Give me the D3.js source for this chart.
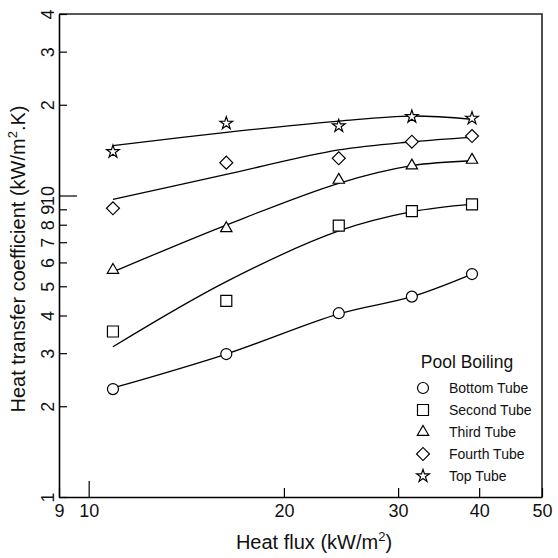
<!DOCTYPE html>
<html>
<head>
<meta charset="utf-8">
<script src="https://cdn.jsdelivr.net/npm/d3@7"></script>
<style>
  html, body { margin: 0; padding: 0; background: #fff; }
  svg { display: block; font-family: "Liberation Sans", Arial, sans-serif; }
</style>
</head>
<body>
<svg id="chart" width="558" height="558"></svg>
<script>
// Heat flux values where each tube was measured (kW/m2)
const heatFlux = [10.9, 16.3, 24.3, 31.5, 39.0];

// Measured heat transfer coefficients (kW/m2.K) for each tube row
const bottomTube = [2.28, 2.98, 4.07, 4.62, 5.49];
const secondTube = [3.54, 4.47, 7.94, 8.88, 9.35];
const thirdTube  = [5.66, 7.78, 11.26, 12.56, 13.12];
const fourthTube = [9.07, 12.85, 13.29, 15.08, 15.75];
const topTube    = [13.97, 17.36, 17.0, 18.26, 18.03];

// Correlation curves drawn through each tube's data, at the same heat fluxes
const bottomFit  = [2.30, 2.98, 4.05, 4.62, 5.49];
const secondFit  = [3.15, 5.18, 7.63, 8.84, 9.37];
const thirdFit   = [5.58, 7.98, 10.98, 12.56, 13.04];
const fourthFit  = [9.71, 11.75, 14.16, 15.08, 15.60];
const topFit     = [14.63, 16.20, 17.66, 18.35, 17.89];

// Legend entries and symbol names
const seriesNames = ["Bottom Tube", "Second Tube", "Third Tube", "Fourth Tube", "Top Tube"];
const seriesSymbols = ["circle", "square", "triangle", "diamond", "star"];

// Axis ticks
const xTicks = [9, 10, 20, 30, 40, 50];
const yTicks = [1, 2, 3, 4, 5, 6, 7, 8, 9, 10, 20, 30, 40];

const svg = d3.select("#chart");
const plotLeft = 59, plotRight = 542, plotTop = 14, plotBottom = 497;

const x = d3.scaleLog().domain([9, 50]).range([plotLeft, plotRight]);
const y = d3.scaleLog().domain([1, 40]).range([plotBottom, plotTop]);

const measured = [bottomTube, secondTube, thirdTube, fourthTube, topTube];
const fits = [bottomFit, secondFit, thirdFit, fourthFit, topFit];

// Frame on top and right
svg.append("path")
  .attr("d", `M${plotLeft},${plotTop}H${plotRight}V${plotBottom}`)
  .attr("fill", "none").attr("stroke", "#222").attr("stroke-width", 1.6);

// Bottom axis with inward ticks
const xAxis = svg.append("g")
  .attr("transform", `translate(0,${plotBottom})`)
  .call(d3.axisBottom(x).tickValues(xTicks).tickFormat(d3.format("d"))
    .tickSizeInner(-9).tickSizeOuter(0).tickPadding(7));
xAxis.select(".domain").attr("stroke", "#000").attr("stroke-width", 1.6);
xAxis.selectAll(".tick line").attr("stroke", "#000").attr("stroke-width", 1.2)
  .attr("y2", d => d === 10 ? -16 : -9);
xAxis.selectAll(".tick text").attr("font-size", 18).attr("fill", "#111")
  .attr("font-family", "Liberation Sans, Arial, sans-serif");

// Left axis with inward ticks and rotated labels
const yAxis = svg.append("g")
  .attr("transform", `translate(${plotLeft},0)`)
  .call(d3.axisLeft(y).tickValues(yTicks)
    .tickFormat(d => d > 10 ? String(d / 10) : String(d))
    .tickSizeInner(-8).tickSizeOuter(0));
yAxis.select(".domain").attr("stroke", "#000").attr("stroke-width", 1.6);
yAxis.selectAll(".tick line").attr("stroke", "#000").attr("stroke-width", 1.2)
  .attr("x2", d => d === 10 ? 18 : 8);
yAxis.selectAll(".tick text")
  .attr("font-size", 18).attr("fill", "#111")
  .attr("font-family", "Liberation Sans, Arial, sans-serif")
  .attr("text-anchor", "middle")
  .attr("x", 0).attr("y", 0).attr("dy", 0)
  .attr("transform", "translate(-5,0) rotate(-90)");

// Axis titles
const xTitle = svg.append("text")
  .attr("x", 314).attr("y", 549)
  .attr("text-anchor", "middle").attr("font-size", 20).attr("fill", "#111");
xTitle.append("tspan").text("Heat flux (kW/m");
xTitle.append("tspan").attr("font-size", 13).attr("dy", -8).text("2");
xTitle.append("tspan").attr("dy", 8).text(")");

const yTitle = svg.append("text")
  .attr("transform", "translate(25,259) rotate(-90)")
  .attr("text-anchor", "middle").attr("font-size", 20).attr("fill", "#111");
yTitle.append("tspan").text("Heat transfer coefficient (kW/m");
yTitle.append("tspan").attr("font-size", 13).attr("dy", -8).text("2");
yTitle.append("tspan").attr("dy", 8).text(".K)");

// Symbol path generator
function symbolPath(name) {
  switch (name) {
    case "circle":   return d3.symbol(d3.symbolCircle, 95)();
    case "square":   return d3.symbol(d3.symbolSquare, 121)();
    case "triangle": return d3.symbol(d3.symbolTriangle, 56)();
    case "diamond":  return d3.symbol(d3.symbolSquare, 84)();
    case "star":     return d3.symbol(d3.symbolStar, 50)();
  }
}
function symbolRotate(name) { return name === "diamond" ? " rotate(45)" : ""; }

// Correlation curves
const line = d3.line()
  .x((d, i) => x(heatFlux[i]))
  .y(d => y(d))
  .curve(d3.curveCatmullRom.alpha(0.5));

svg.append("g").selectAll("path").data(fits).join("path")
  .attr("d", d => line(d))
  .attr("fill", "none").attr("stroke", "#000").attr("stroke-width", 1.3);

// Data markers
measured.forEach((vals, s) => {
  svg.append("g").selectAll("path").data(vals).join("path")
    .attr("d", symbolPath(seriesSymbols[s]))
    .attr("transform", (d, i) => `translate(${x(heatFlux[i])},${y(d)})${symbolRotate(seriesSymbols[s])}`)
    .attr("fill", "#fff").attr("stroke", "#000").attr("stroke-width", 1.2);
});

// Legend
const legend = svg.append("g");
legend.append("text").attr("x", 467).attr("y", 368)
  .attr("text-anchor", "middle").attr("font-size", 17.5).attr("fill", "#111")
  .text("Pool Boiling");
seriesNames.forEach((name, i) => {
  const cy = 388 + i * 22;
  legend.append("path")
    .attr("d", symbolPath(seriesSymbols[i]))
    .attr("transform", `translate(423,${cy})${symbolRotate(seriesSymbols[i])}`)
    .attr("fill", "#fff").attr("stroke", "#000").attr("stroke-width", 1.2);
  legend.append("text").attr("x", 449).attr("y", cy + 5)
    .attr("font-size", 14).attr("fill", "#111").text(name);
});
</script>
</body>
</html>
